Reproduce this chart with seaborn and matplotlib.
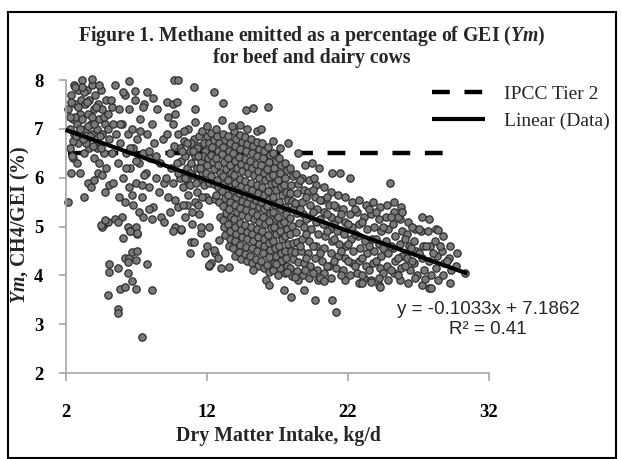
import numpy as np
import pandas as pd
import seaborn as sns
import matplotlib.pyplot as plt
from matplotlib.lines import Line2D
from matplotlib.patches import Rectangle

# (DMI kg/d, Ym %), grouped by region of the cloud
low_intake = [
    (2.2, 7.4), (2.3, 7.0), (2.4, 7.7), (2.3, 6.6), (2.5, 7.2), (2.6, 7.9), (2.6, 6.9), (2.7, 7.5),
    (2.8, 7.1), (2.9, 7.8), (2.9, 6.7), (3.0, 7.3), (3.1, 7.6), (3.1, 6.9), (3.2, 8.0), (3.2, 7.2),
    (3.3, 6.5), (3.4, 7.5), (3.4, 7.0), (3.5, 7.8), (3.5, 6.8), (3.6, 7.3), (3.7, 7.6), (3.7, 6.6),
    (3.8, 7.1), (3.9, 7.9), (3.9, 6.9), (4.0, 7.4), (4.0, 6.4), (4.1, 7.7), (4.2, 7.0), (4.2, 6.7),
    (4.3, 7.5), (4.4, 6.3), (4.4, 7.2), (4.5, 7.8), (4.6, 6.9), (4.6, 7.4), (4.7, 6.5), (4.8, 7.1),
    (4.9, 7.6), (4.9, 6.2), (2.2, 5.5), (2.4, 6.1), (2.5, 6.4), (2.8, 6.3), (3.0, 6.1), (3.3, 5.6),
    (3.6, 5.9), (3.8, 5.8), (4.0, 5.95), (4.3, 6.1), (4.6, 6.05), (4.8, 5.7), (2.4, 7.55), (2.7, 7.25),
    (3.05, 7.0), (3.3, 7.75), (3.6, 7.05), (3.9, 7.25), (4.15, 7.45), (4.45, 6.85), (4.7, 7.25),
    (2.9, 7.45), (3.45, 6.7), (2.55, 6.75), (3.75, 6.85), (4.25, 6.6), (3.15, 7.85), (4.05, 7.1),
    (2.7, 7.86), (3.85, 8.03), (5.0, 7.0), (5.3, 7.45), (2.35, 7.25), (2.75, 6.85), (3.25, 6.8),
    (3.55, 7.55), (4.35, 7.9), (2.45, 6.45), (3.95, 6.65), (4.55, 6.6),
]

mid_intake = [
    (5.0, 7.3), (5.1, 6.8), (5.2, 7.6), (5.3, 6.5), (5.4, 7.1), (5.5, 7.9), (5.6, 6.9), (5.7, 6.3),
    (5.8, 7.4), (5.9, 6.7), (6.0, 7.1), (6.1, 6.0), (6.2, 7.7), (6.3, 6.5), (6.4, 6.9), (6.5, 7.4),
    (6.6, 6.2), (6.7, 7.0), (6.8, 6.6), (6.9, 7.6), (7.0, 5.9), (7.1, 6.8), (7.2, 6.3), (7.3, 7.2),
    (7.4, 5.6), (7.5, 6.5), (7.6, 7.5), (7.7, 6.1), (7.8, 6.9), (7.9, 5.8), (8.0, 6.4), (8.1, 7.1),
    (8.2, 5.4), (8.3, 6.7), (8.4, 6.0), (8.5, 7.4), (8.6, 5.7), (8.7, 6.3), (8.8, 5.2), (8.9, 6.8),
    (9.0, 5.9), (5.1, 5.85), (5.4, 5.9), (5.8, 5.6), (6.2, 5.5), (6.5, 5.8), (6.8, 5.45), (7.2, 5.3),
    (7.5, 5.2), (7.9, 5.35), (6.0, 5.2), (6.4, 5.0), (6.9, 4.95), (5.5, 5.15), (4.7, 5.05), (5.0, 5.1),
    (4.6, 5.0), (5.7, 5.1), (6.6, 4.9), (7.1, 4.85), (8.1, 5.15), (6.5, 7.97), (6.1, 7.75), (6.9, 7.78),
    (7.8, 7.75), (8.2, 7.63), (7.5, 7.45), (5.85, 7.1), (6.55, 6.6), (7.25, 6.95), (7.95, 6.55),
    (6.3, 6.2), (7.0, 6.35), (7.6, 6.05), (8.4, 6.45), (6.7, 5.65), (7.4, 5.85),
]

low_ym = [
    (4.55, 5.03), (4.8, 5.13), (6.1, 4.76), (6.6, 4.91), (7.0, 5.0), (7.1, 4.86), (6.2, 4.36),
    (6.5, 4.35), (6.7, 4.48), (7.1, 4.5), (7.0, 4.31), (6.4, 4.28), (5.1, 4.24), (5.1, 4.07),
    (5.7, 4.15), (6.4, 4.04), (6.7, 3.88), (5.9, 3.73), (6.2, 3.77), (7.0, 3.73), (5.0, 3.59),
    (5.7, 3.32), (5.7, 3.22), (7.4, 2.74), (7.8, 4.24), (8.1, 3.70), (10.2, 4.93), (11.0, 5.06),
    (11.6, 4.86), (10.9, 4.69), (10.8, 4.46),
]

near_twelve = [
    (10.0, 6.9), (10.1, 6.6), (10.2, 6.35), (10.3, 6.1), (10.4, 6.75), (10.5, 6.45), (10.6, 6.2),
    (10.7, 7.0), (10.8, 6.55), (10.9, 6.3), (11.0, 6.05), (11.1, 6.8), (11.2, 6.45), (11.3, 6.2),
    (11.4, 5.95), (11.5, 6.65), (11.6, 6.35), (11.7, 6.1), (11.8, 5.85), (11.9, 6.55), (12.0, 6.25),
    (12.0, 6.85), (11.95, 5.6), (10.3, 5.8), (10.7, 5.65), (11.2, 5.5), (10.0, 5.4), (10.5, 5.2),
    (11.0, 5.3), (11.5, 5.25), (9.8, 5.0), (10.2, 4.95), (11.6, 5.0), (11.1, 4.68), (12.2, 5.0),
    (12.0, 4.6), (12.3, 4.25), (12.6, 4.45), (12.2, 4.2), (9.7, 8.0), (10.0, 8.0), (11.1, 7.85),
    (9.2, 7.55), (9.6, 7.5), (9.9, 7.55), (9.3, 7.25), (9.8, 7.3), (11.2, 7.4), (11.2, 7.15),
    (9.6, 7.1), (10.4, 6.95), (9.2, 6.9), (9.4, 6.5), (9.5, 6.2), (9.6, 5.9), (9.3, 5.6), (9.7, 6.65),
    (9.1, 6.0), (9.9, 6.3), (9.4, 5.3), (9.6, 4.9), (9.0, 5.1), (9.8, 5.55), (10.6, 5.95),
    (11.35, 5.7), (10.15, 6.0), (11.75, 6.45), (10.45, 6.0), (10.85, 5.85), (11.25, 5.9),
    (11.65, 5.6), (10.6, 5.45), (11.3, 6.6), (10.25, 6.55), (9.95, 6.1), (11.85, 6.7),
    (10.9, 6.7), (11.45, 6.85), (11.55, 6.2), (11.95, 6.1), (12.1, 6.4), (12.15, 6.7), (11.05, 6.55),
    (10.65, 6.7), (11.65, 6.95), (12.15, 5.9), (11.4, 6.45), (10.8, 6.1), (10.35, 5.45), (11.4, 5.45),
    (12.2, 5.55),
]

core = [
    (12.35, 6.92), (12.5, 6.77), (12.4, 6.62), (12.3, 6.47), (12.45, 6.33), (12.55, 6.18), (12.35, 6.03),
    (12.5, 5.88), (12.6, 5.57),
    (12.75, 6.85), (12.9, 6.7), (12.8, 6.55), (12.7, 6.4), (12.85, 6.25), (12.95, 6.1), (12.75, 5.95),
    (12.85, 5.8), (12.7, 5.65), (12.9, 5.5), (12.95, 5.2),
    (13.15, 6.9), (13.3, 6.78), (13.2, 6.62), (13.1, 6.48), (13.25, 6.33), (13.35, 6.18), (13.15, 6.03),
    (13.25, 5.88), (13.1, 5.73), (13.3, 5.58), (13.2, 5.43), (13.35, 5.28), (13.15, 5.13), (13.25, 4.98),
    (13.3, 4.83),
    (13.55, 6.85), (13.7, 6.7), (13.6, 6.55), (13.5, 6.4), (13.65, 6.25), (13.75, 6.1), (13.55, 5.95),
    (13.65, 5.8), (13.5, 5.65), (13.7, 5.5), (13.6, 5.35), (13.75, 5.2), (13.55, 5.05), (13.65, 4.9),
    (13.7, 4.75), (13.6, 4.6),
    (13.95, 6.95), (14.1, 6.8), (14.0, 6.65), (13.9, 6.5), (14.05, 6.35), (14.15, 6.2), (13.95, 6.05),
    (14.05, 5.9), (13.9, 5.75), (14.1, 5.6), (14.0, 5.45), (14.15, 5.3), (13.95, 5.15), (14.05, 5.0),
    (14.1, 4.85), (14.0, 4.7), (13.9, 4.55), (14.05, 4.4),
    (14.35, 6.88), (14.5, 6.73), (14.4, 6.58), (14.3, 6.43), (14.45, 6.28), (14.55, 6.13), (14.35, 5.98),
    (14.45, 5.83), (14.3, 5.68), (14.5, 5.53), (14.4, 5.38), (14.55, 5.23), (14.35, 5.08), (14.45, 4.93),
    (14.5, 4.78), (14.4, 4.63), (14.3, 4.48), (14.45, 4.33),
    (14.75, 6.84), (14.9, 6.69), (14.8, 6.54), (14.7, 6.39), (14.85, 6.24), (14.95, 6.09), (14.75, 5.94),
    (14.85, 5.79), (14.7, 5.64), (14.9, 5.49), (14.8, 5.34), (14.95, 5.19), (14.75, 5.04), (14.85, 4.89),
    (14.9, 4.74), (14.8, 4.59), (14.7, 4.44), (14.85, 4.29),
    (15.15, 6.8), (15.3, 6.65), (15.2, 6.5), (15.1, 6.35), (15.25, 6.2), (15.35, 6.05), (15.15, 5.9),
    (15.25, 5.75), (15.1, 5.6), (15.3, 5.45), (15.2, 5.3), (15.35, 5.15), (15.15, 5.0), (15.25, 4.85),
    (15.3, 4.7), (15.2, 4.55), (15.1, 4.4), (15.25, 4.25),
    (15.55, 6.74), (15.7, 6.59), (15.6, 6.44), (15.5, 6.29), (15.65, 6.14), (15.75, 5.99), (15.55, 5.84),
    (15.65, 5.69), (15.5, 5.54), (15.7, 5.39), (15.6, 5.24), (15.75, 5.09), (15.55, 4.94), (15.65, 4.79),
    (15.7, 4.64), (15.6, 4.49), (15.5, 4.34), (15.65, 4.19),
    (15.95, 6.7), (16.1, 6.55), (16.0, 6.4), (15.9, 6.25), (16.05, 6.1), (16.15, 5.95), (15.95, 5.8),
    (16.05, 5.65), (15.9, 5.5), (16.1, 5.35), (16.0, 5.2), (16.15, 5.05), (15.95, 4.9), (16.05, 4.75),
    (16.1, 4.6), (16.0, 4.45), (15.9, 4.3), (16.05, 4.15),
    (16.35, 6.62), (16.5, 6.47), (16.4, 6.32), (16.3, 6.17), (16.45, 6.02), (16.55, 5.87), (16.35, 5.72),
    (16.45, 5.57), (16.3, 5.42), (16.5, 5.27), (16.4, 5.12), (16.55, 4.97), (16.35, 4.82), (16.45, 4.67),
    (16.5, 4.52), (16.4, 4.37), (16.3, 4.22), (16.45, 4.07),
    (16.75, 6.5), (16.9, 6.35), (16.8, 6.2), (16.7, 6.05), (16.85, 5.9), (16.95, 5.75), (16.75, 5.6),
    (16.85, 5.45), (16.7, 5.3), (16.9, 5.15), (16.8, 5.0), (16.95, 4.85), (16.75, 4.7), (16.85, 4.55),
    (16.9, 4.4), (16.8, 4.25), (16.7, 4.1),
    (17.15, 6.4), (17.3, 6.25), (17.2, 6.1), (17.1, 5.95), (17.25, 5.8), (17.35, 5.65), (17.15, 5.5),
    (17.25, 5.35), (17.1, 5.2), (17.3, 5.05), (17.2, 4.9), (17.35, 4.75), (17.15, 4.6), (17.25, 4.45),
    (17.3, 4.3), (17.2, 4.15), (17.1, 4.0),
    (17.55, 6.3), (17.7, 6.15), (17.6, 6.0), (17.5, 5.85), (17.65, 5.7), (17.75, 5.55), (17.55, 5.4),
    (17.65, 5.25), (17.5, 5.1), (17.7, 4.95), (17.6, 4.8), (17.75, 4.65), (17.55, 4.5), (17.65, 4.35),
    (17.7, 4.2), (17.6, 4.05),
    (17.95, 6.2), (18.1, 6.03), (18.0, 5.86), (17.9, 5.69), (18.05, 5.52), (18.15, 5.35), (17.95, 5.18),
    (18.05, 5.01), (17.9, 4.84), (18.1, 4.67), (18.0, 4.5), (18.15, 4.33), (17.95, 4.16), (18.05, 3.99),
    (18.35, 6.08), (18.5, 5.88), (18.4, 5.68), (18.3, 5.48), (18.45, 5.28), (18.55, 5.08), (18.35, 4.88),
    (18.45, 4.68), (18.3, 4.48), (18.5, 4.28), (18.4, 4.08), (18.5, 3.9),
]

outer = [
    (18.8, 6.0), (18.9, 5.75), (18.75, 5.5), (18.85, 5.25), (18.95, 5.0), (18.8, 4.75), (18.7, 4.5),
    (18.9, 4.25), (18.85, 4.0), (19.3, 5.95), (19.2, 5.7), (19.35, 5.45), (19.25, 5.2), (19.4, 4.95),
    (19.3, 4.7), (19.2, 4.45), (19.35, 4.2), (19.25, 3.95), (19.8, 5.85), (19.7, 5.6), (19.85, 5.35),
    (19.75, 5.1), (19.9, 4.85), (19.8, 4.6), (19.7, 4.35), (19.85, 4.1), (19.9, 3.9), (20.3, 5.8),
    (20.2, 5.55), (20.35, 5.3), (20.25, 5.05), (20.4, 4.8), (20.3, 4.55), (20.2, 4.3), (20.35, 4.05),
    (20.8, 5.7), (20.7, 5.45), (20.85, 5.2), (20.75, 4.95), (20.9, 4.7), (20.8, 4.45), (20.7, 4.2),
    (20.85, 3.95), (21.3, 5.65), (21.2, 5.4), (21.35, 5.15), (21.25, 4.9), (21.4, 4.65), (21.3, 4.4),
    (21.2, 4.15), (21.8, 5.6), (21.7, 5.35), (21.85, 5.1), (21.75, 4.85), (21.9, 4.6), (21.8, 4.35),
    (21.7, 4.1), (21.85, 3.9), (22.3, 5.5), (22.2, 5.25), (22.35, 5.0), (22.25, 4.75), (22.4, 4.5),
    (22.3, 4.25), (22.2, 4.0), (19.05, 5.6), (19.55, 5.3), (20.05, 5.15), (20.55, 4.9), (21.05, 4.75),
    (21.55, 4.5), (22.05, 4.3), (19.55, 4.6), (20.05, 4.45), (20.55, 4.2), (21.05, 5.45), (21.55, 5.25),
    (22.05, 5.05), (19.05, 4.85), (18.6, 5.95), (19.6, 6.0), (18.6, 4.6), (18.6, 5.35), (19.05, 4.35),
    (19.55, 5.75), (20.05, 5.55), (20.55, 5.6), (21.05, 4.3), (21.55, 4.0), (22.05, 4.65),
    (20.05, 3.95), (19.55, 4.05), (21.05, 5.05), (20.55, 5.25), (19.05, 5.15),
]

high_intake = [
    (22.8, 5.55), (22.7, 5.3), (22.85, 5.05), (22.75, 4.8), (22.9, 4.55), (22.8, 4.3), (22.7, 4.05),
    (22.85, 3.85), (23.3, 5.45), (23.2, 5.2), (23.35, 4.95), (23.25, 4.7), (23.4, 4.45), (23.3, 4.2),
    (23.2, 3.95), (23.8, 5.5), (23.7, 5.25), (23.85, 5.0), (23.75, 4.75), (23.9, 4.5), (23.8, 4.25),
    (23.7, 3.9), (24.3, 5.4), (24.2, 5.15), (24.35, 4.9), (24.25, 4.65), (24.4, 4.4), (24.3, 4.15),
    (24.2, 3.8), (24.8, 5.45), (24.7, 5.2), (24.85, 4.95), (24.75, 4.7), (24.9, 4.45), (24.8, 4.2),
    (24.9, 3.9), (25.3, 5.3), (25.2, 5.05), (25.35, 4.8), (25.25, 4.55), (25.4, 4.3), (25.3, 4.05),
    (25.8, 5.4), (25.7, 5.15), (25.85, 4.9), (25.75, 4.65), (25.9, 4.4), (25.8, 4.15), (25.7, 3.9),
    (26.3, 5.1), (26.2, 4.85), (26.35, 4.6), (26.25, 4.35), (26.4, 4.1), (26.3, 3.85), (26.8, 4.95),
    (26.7, 4.7), (26.85, 4.5), (26.75, 4.25), (26.9, 4.0), (27.3, 5.2), (27.2, 4.9), (27.35, 4.6),
    (27.25, 4.35), (27.4, 4.1), (27.3, 3.8), (27.8, 5.15), (27.7, 4.9), (27.85, 4.6), (27.75, 4.3),
    (27.9, 4.0), (27.8, 3.75), (28.3, 4.95), (28.2, 4.7), (28.35, 4.4), (28.25, 4.15), (28.4, 3.9),
    (28.8, 4.8), (28.7, 4.5), (28.85, 4.25), (28.75, 4.0), (29.3, 4.6), (29.2, 4.35), (29.35, 4.1),
    (29.25, 3.85), (29.8, 4.45), (29.7, 4.2), (30.3, 4.05), (23.05, 5.1), (23.55, 4.6), (24.05, 4.3),
    (24.55, 5.0), (25.05, 4.6), (25.55, 4.35), (26.05, 4.75), (26.55, 5.0), (27.05, 4.45), (22.55, 4.85),
    (23.05, 4.35), (24.05, 5.3), (25.55, 5.2), (28.4, 4.93), (27.5, 3.93), (26.8, 3.94), (25.6, 4.0),
    (25.0, 5.9), (25.3, 5.5), (25.9, 5.3), (26.5, 4.55), (23.05, 4.0), (23.55, 5.35), (24.05, 4.75),
    (24.55, 4.55), (25.05, 5.2), (25.05, 4.1), (26.05, 4.2), (26.55, 4.3), (27.05, 4.95), (27.55, 4.6),
    (28.05, 4.45), (28.55, 4.6), (29.05, 4.3), (23.55, 4.1), (24.55, 4.05), (22.55, 5.35), (22.55, 4.2),
]

outliers = [
    (18.0, 3.56), (18.9, 3.7), (19.7, 3.49), (20.9, 3.49), (21.2, 3.25), (16.2, 3.9), (16.4, 3.8),
    (17.5, 3.7), (12.9, 4.72), (11.9, 4.45), (12.5, 4.52), (13.0, 4.14), (13.6, 4.17), (12.8, 4.35),
    (12.2, 4.21), (15.3, 4.1), (16.9, 4.24), (17.7, 4.07), (18.3, 3.97), (19.0, 4.1), (20.3, 3.88),
    (24.2, 3.94), (23.0, 3.84), (23.7, 3.87), (24.3, 3.76), (27.9, 3.75), (16.35, 7.45), (14.8, 7.38),
    (15.3, 7.42), (13.2, 7.52), (12.5, 7.76), (13.1, 7.18), (12.0, 7.05), (12.7, 7.0), (13.8, 7.05),
    (14.4, 7.08), (15.6, 6.95), (15.9, 7.0), (14.9, 7.0), (17.8, 6.7), (18.5, 6.5), (19.5, 6.3),
    (20.0, 6.2), (17.2, 6.6), (16.7, 6.75), (19.0, 6.25), (22.2, 6.0), (20.9, 6.1), (21.5, 6.1),
]

trend_slope = -0.1033
trend_intercept = 7.1862
trend_r2 = 0.41
trend_x = [2.0, 30.5]
ipcc_ym = 6.5
ipcc_x = [2.2, 28.9]
x_ticks = [2, 12, 22, 32]
y_ticks = [2, 3, 4, 5, 6, 7, 8]

points = low_intake + mid_intake + low_ym + near_twelve + core + outer + high_intake + outliers
df = pd.DataFrame(points, columns=['dmi', 'ym'])

sns.set_theme(style='white')
plt.rcParams['font.family'] = ['Liberation Serif', 'DejaVu Serif']
plt.rcParams['mathtext.fontset'] = 'custom'
plt.rcParams['mathtext.it'] = 'Liberation Serif:italic:bold'
plt.rcParams['mathtext.rm'] = 'Liberation Serif:bold'

W, H = 621, 459
fig = plt.figure(figsize=(W / 100, H / 100), dpi=100)
fig.patch.set_facecolor('white')
ax = fig.add_axes([65.5 / W, 1 - 373 / H, (488.5 - 65.5) / W, (373 - 80) / H])

# IPCC line sits under the markers, the fitted line on top of them
ax.plot(ipcc_x, [ipcc_ym, ipcc_ym], color='black', lw=3.2, linestyle=(0, (4, 3.3)),
        dash_capstyle='butt', zorder=1, clip_on=False)
sns.scatterplot(data=df, x='dmi', y='ym', ax=ax, s=28, color='#7a7a7a',
                edgecolor='#2e2e2e', linewidth=0.9, legend=False, clip_on=False, zorder=2)
trend_y = [trend_intercept + trend_slope * v for v in trend_x]
ax.plot(trend_x, trend_y, color='black', lw=3, solid_capstyle='butt', zorder=3, clip_on=False)

ax.set_xlim(2, 32)
ax.set_ylim(2, 8)
ax.set_xticks(x_ticks)
ax.set_yticks(y_ticks)
ax.set_xlabel('')
ax.set_ylabel('')
for side in ['top', 'right']:
    ax.spines[side].set_visible(False)
for side in ['left', 'bottom']:
    ax.spines[side].set_color('#a6a6a6')
    ax.spines[side].set_linewidth(1.2)
ax.tick_params(axis='both', direction='out', color='#a6a6a6', width=1.2, labelsize=13.5,
               labelcolor='black', left=True, bottom=True)
ax.tick_params(axis='y', length=5, pad=11)
ax.tick_params(axis='x', length=6, pad=16)
for lab in ax.get_xticklabels() + ax.get_yticklabels():
    lab.set_fontweight('bold')

fig.text(312 / W, 1 - 36 / H, 'Figure 1. Methane emitted as a percentage of GEI ($Ym$)',
         ha='center', va='center', fontsize=14.2, fontweight='bold')
fig.text(312 / W, 1 - 58 / H, 'for beef and dairy cows',
         ha='center', va='center', fontsize=14.2, fontweight='bold')
fig.text(278 / W, 1 - 436 / H, 'Dry Matter Intake, kg/d',
         ha='center', va='center', fontsize=14.3, fontweight='bold')
fig.text(20 / W, 1 - 225 / H, '$Ym$, CH4/GEI (%)', rotation=90,
         ha='center', va='center', fontsize=14.3, fontweight='bold')

fig.text(488 / W, 1 - 310 / H, 'y = %.4fx + %.4f' % (trend_slope, trend_intercept),
         ha='center', va='center', fontsize=13.5, family='Liberation Sans')
fig.text(488 / W, 1 - 330 / H, 'R\u00b2 = %.2f' % trend_r2,
         ha='center', va='center', fontsize=13.5, family='Liberation Sans')

handles = [Line2D([], [], color='black', lw=3.2, linestyle=(0, (4, 3.3)), dash_capstyle='butt'),
           Line2D([], [], color='black', lw=3, solid_capstyle='butt')]
fig.legend(handles, ['IPCC Tier 2', 'Linear (Data)'], loc='center left',
           bbox_to_anchor=(432 / W, 1 - 107.5 / H), frameon=False, fontsize=14,
           handlelength=2.7, handletextpad=1.0, labelspacing=0.45, borderpad=0, borderaxespad=0)

fig.patches.append(Rectangle((8 / W, 1 - 458 / H), (616 - 8) / W, (458 - 12) / H,
                             transform=fig.transFigure, fill=False, edgecolor='black', lw=1.5))

fig.savefig('out.png', dpi=100)
